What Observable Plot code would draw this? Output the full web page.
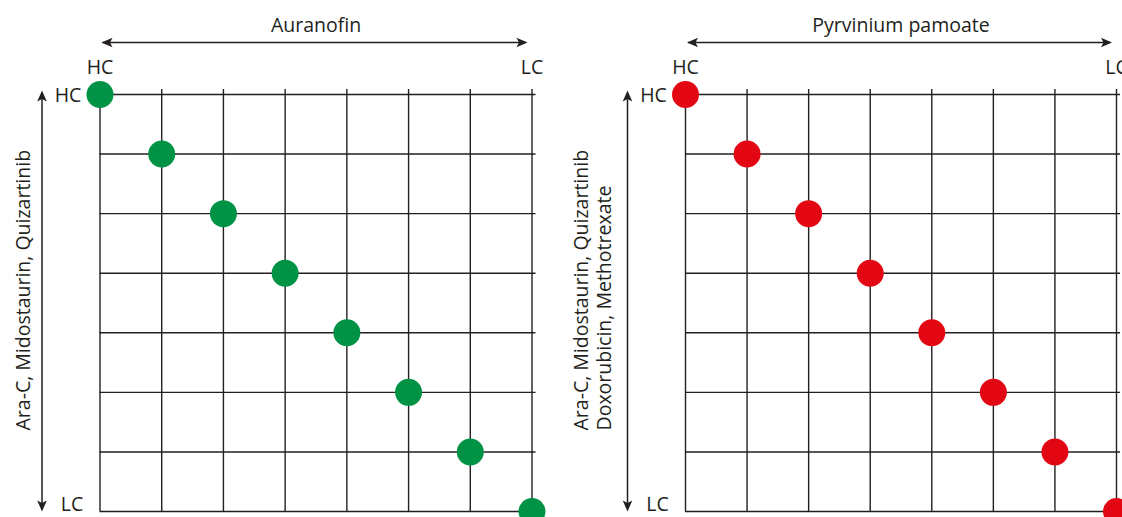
<!DOCTYPE html>
<html><head><meta charset="utf-8">
<script src="https://cdn.jsdelivr.net/npm/d3@7"></script>
<script src="https://cdn.jsdelivr.net/npm/@observablehq/plot@0.6"></script>
<style>
html,body{margin:0;padding:0;background:#fff;overflow:hidden;}
#wrap{position:relative;width:1122px;height:517px;display:flex;}
#wrap svg{overflow:visible;flex:none}
</style></head><body><div id="wrap"></div>
<script>
// concentration steps, 0 = HC (high concentration) ... 7 = LC (low concentration)
const steps = [0, 1, 2, 3, 4, 5, 6, 7];
// diagonal combinations shown in each matrix
const auranofinStep      = [0, 1, 2, 3, 4, 5, 6, 7];
const auranofinComboStep = [0, 1, 2, 3, 4, 5, 6, 7];
const pyrviniumStep      = [0, 1, 2, 3, 4, 5, 6, 7];
const pyrviniumComboStep = [0, 1, 2, 3, 4, 5, 6, 7];
const panelTitles = ["Auranofin", "Pyrvinium pamoate"];
const comboLabels = ["Ara-C, Midostaurin, Quizartinib",
                     "Ara-C, Midostaurin, Quizartinib\nDoxorubicin, Methotrexate"];
const endLabels = ["HC", "LC"];
const dotColors = ["#009245", "#e30613"];

const ink = "#231f20";
const font = "Open Sans";
const first = steps[0], last = steps[steps.length - 1];
const head = {draw(ctx) { ctx.moveTo(0, 0); ctx.lineTo(4.8, 11); ctx.lineTo(0, 8.5); ctx.lineTo(-4.8, 11); ctx.closePath(); }};

function panel(title, comboLabel, xs, ys, color, xRange, labelDx) {
  const pts = xs.map((x, i) => ({x, y: ys[i]}));
  return Plot.plot({
    width: 561, height: 517, margin: 0,
    x: {domain: [first, last], range: xRange, axis: null},
    y: {domain: [first, last], range: [94, 511], axis: null},
    style: {fontFamily: font, background: "white", color: ink},
    marks: [
      Plot.ruleX(steps, {x: d => d, y1: first, y2: last, insetTop: -5, stroke: ink, strokeWidth: 1.4}),
      Plot.ruleY(steps, {y: d => d, x1: first, x2: last, insetRight: -4, stroke: ink, strokeWidth: 1.4}),
      Plot.dot(pts, {x: "x", y: "y", r: 13.5, fill: color}),
      // title and top arrow
      Plot.text([title], {x: (first + last) / 2, y: first, dy: -69, text: d => d, fontSize: 19.5, fill: ink}),
      Plot.ruleY([first], {y: d => d, x1: first, x2: last, dy: -52, insetLeft: 3, insetRight: 6, stroke: ink, strokeWidth: 1.5}),
      Plot.dot([first], {x: first, y: first, dx: 1.5, dy: -52, symbol: head, r: 5, rotate: -90, fill: ink, stroke: "none"}),
      Plot.dot([last], {x: last, y: first, dx: -4.5, dy: -52, symbol: head, r: 5, rotate: 90, fill: ink, stroke: "none"}),
      Plot.text([first, last], {x: d => d, y: first, dy: -27, text: (d, i) => endLabels[i], fontSize: 19.5, fill: ink}),
      // left arrow and labels
      Plot.ruleX([first], {x: d => d, y1: first, y2: last, dx: -58, insetTop: 0, insetBottom: 6, stroke: ink, strokeWidth: 1.5}),
      Plot.dot([first], {x: first, y: first, dx: -58, dy: -4, symbol: head, r: 5, rotate: 0, fill: ink, stroke: "none"}),
      Plot.dot([last], {x: first, y: last, dx: -58, dy: 0, symbol: head, r: 5, rotate: 180, fill: ink, stroke: "none"}),
      Plot.text([endLabels[0]], {x: first, y: first, dx: -32, dy: 1, text: d => d, fontSize: 19.5, fill: ink}),
      Plot.text([endLabels[1]], {x: first, y: last, dx: -28, dy: -7, text: d => d, fontSize: 19.5, fill: ink}),
      Plot.text([comboLabel], {x: first, y: last, dx: labelDx, dy: -81, text: d => d, rotate: -90,
        textAnchor: "start", lineHeight: 1.18, fontSize: 19.5, fill: ink})
    ]
  });
}

const wrap = document.getElementById("wrap");
wrap.append(panel(panelTitles[0], comboLabels[0], auranofinStep, auranofinComboStep, dotColors[0], [99.5, 531.5], -77.5));
wrap.append(panel(panelTitles[1], comboLabels[1], pyrviniumStep, pyrviniumComboStep, dotColors[1], [124, 555], -93.5));
</script></body></html>
